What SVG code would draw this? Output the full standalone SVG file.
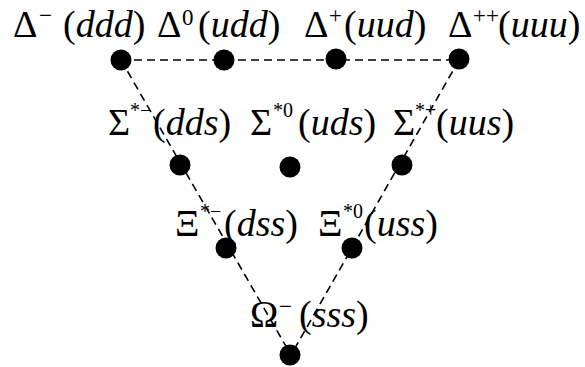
<svg xmlns="http://www.w3.org/2000/svg" width="585" height="367" viewBox="0 0 585 367">
<style>
text{font-family:'Liberation Serif','Times New Roman',serif;font-size:38px;fill:#000}
.s{font-size:23px}
.t{font-size:20px}
.i{font-style:italic}
.d{fill:#000}
.c{stroke:#000;stroke-width:1.6;stroke-dasharray:8 5;fill:none}
</style>
<rect width="585" height="367" fill="#fff"/>
<g id="connectors">
<path class="c" d="M121,60 L459,60"/>
<path class="c" d="M121,60 L291,355"/>
<path class="c" d="M459,60 L291,355"/>
</g>
<g id="delta-minus"><circle class="d" cx="121" cy="60" r="10.5"/><text y="37"><tspan x="13">Δ</tspan><tspan class="s" x="39" y="23">−</tspan><tspan x="63" y="37">(</tspan><tspan class="i">ddd</tspan>)</text></g>
<g id="delta-zero"><circle class="d" cx="224" cy="60" r="10.5"/><text y="37"><tspan x="157">Δ</tspan><tspan class="s" x="182" y="25">0</tspan><tspan x="198" y="37">(</tspan><tspan class="i">udd</tspan>)</text></g>
<g id="delta-plus"><circle class="d" cx="336" cy="59" r="10.5"/><text y="37"><tspan x="304">Δ</tspan><tspan class="s" x="329" y="23">+</tspan><tspan x="344" y="37">(</tspan><tspan class="i">uud</tspan>)</text></g>
<g id="delta-plusplus"><circle class="d" cx="459" cy="59" r="10.5"/><text y="37"><tspan x="448">Δ</tspan><tspan class="s" x="473" y="23">++</tspan><tspan x="498" y="37">(</tspan><tspan class="i">uuu</tspan>)</text></g>
<g id="sigma-minus"><circle class="d" cx="180" cy="165" r="10.5"/><text y="135"><tspan x="108">Σ</tspan><tspan class="t" x="130" y="117">*−</tspan><tspan x="153" y="135">(</tspan><tspan class="i">dds</tspan>)</text></g>
<g id="sigma-zero"><circle class="d" cx="290" cy="167" r="10.5"/><text y="135"><tspan x="250">Σ</tspan><tspan class="t" x="273" y="117">*0</tspan><tspan x="298" y="135">(</tspan><tspan class="i">uds</tspan>)</text></g>
<g id="sigma-plus"><circle class="d" cx="402" cy="165" r="10.5"/><text y="135"><tspan x="393">Σ</tspan><tspan class="t" x="415" y="117">*+</tspan><tspan x="436" y="135">(</tspan><tspan class="i">uus</tspan>)</text></g>
<g id="xi-minus"><circle class="d" cx="226" cy="248" r="10.5"/><text y="236"><tspan x="175">Ξ</tspan><tspan class="t" x="200" y="218">*−</tspan><tspan x="224" y="236">(</tspan><tspan class="i">dss</tspan>)</text></g>
<g id="xi-zero"><circle class="d" cx="352" cy="248" r="10.5"/><text y="236"><tspan x="318">Ξ</tspan><tspan class="t" x="343" y="218">*0</tspan><tspan x="364" y="236">(</tspan><tspan class="i">uss</tspan>)</text></g>
<g id="omega-minus"><circle class="d" cx="290" cy="355" r="10.5"/><text y="327"><tspan x="250">Ω</tspan><tspan class="s" x="279" y="314">−</tspan><tspan x="299" y="327">(</tspan><tspan class="i">sss</tspan>)</text></g>
</svg>
